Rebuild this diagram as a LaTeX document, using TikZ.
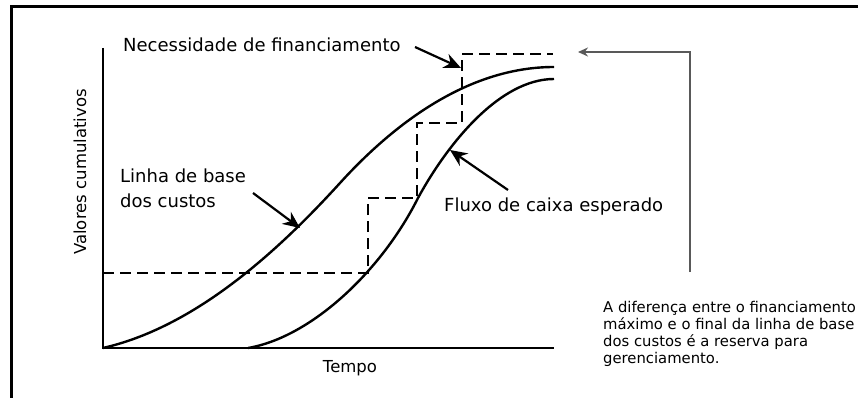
\documentclass[tikz,border=0pt]{standalone}
\usepackage{fontspec}
\setmainfont{DejaVu Sans}
\usetikzlibrary{arrows.meta}

\begin{document}
\begin{tikzpicture}[x=1pt,y=-1pt,
    lbl/.style={inner sep=0pt,font=\fontsize{18}{25}\selectfont},
    axislbl/.style={inner sep=0pt,font=\fontsize{16.5}{19}\selectfont},
    notelbl/.style={inner sep=0pt,align=left,font=\fontsize{14.8}{16.7}\selectfont},
    curve/.style={line width=2.4pt},
    pointer/.style={line width=2.2pt,-{Stealth[length=17pt,width=15pt]}},
    funding/.style={line width=2.2pt,dash pattern=on 11pt off 6pt},
    reserve/.style={line width=1.3pt,draw=black!65,-{Stealth[length=10pt,width=9pt]}}]
    \useasboundingbox (0,0) rectangle (858,398);

    % Draw the frame and the axes
    \draw[line width=3pt] (11,398) -- (11,7) -- (858,7);
    \draw[line width=2.2pt] (103,48) -- (103,348) -- (554,348);

    % Define the labels
    \node[axislbl,rotate=90,anchor=base] (yaxis) at (86,172) {Valores cumulativos};
    \node[axislbl,anchor=base] (xaxis) at (350,372) {Tempo};
    \node[lbl,anchor=base west] (need) at (123,52) {Necessidade de financiamento};
    \node[lbl,anchor=north west,align=left] (costlbl) at (120,168.5) {Linha de base\\dos custos};
    \node[lbl,anchor=base west] (flow) at (444,211) {Fluxo de caixa esperado};
    \node[notelbl,anchor=north west] (note) at (603,301.5) {A diferença entre o financiamento\\máximo e o final da linha de base\\dos custos é a reserva para\\gerenciamento.};

    % Draw the funding steps
    \draw[funding] (103,273) -- (368,273) -- (368,198) -- (417,198) -- (417,123) -- (462,123) -- (462,54) -- (553,54);

    % Draw the curves
    \draw[curve] (103,348) .. controls (190,328) and (270,260) .. (340,183)
                           .. controls (390,128) and (465,67) .. (554,67);
    \draw[curve] (248,348) .. controls (312,337) and (382,270) .. (418,198)
                           .. controls (448,143) and (500,79) .. (554,79);

    % Define the arrow ends
    \coordinate (needTail) at (415,47);
    \coordinate (needTip) at (461,68);
    \coordinate (costTail) at (253,193);
    \coordinate (costTip) at (300,228);
    \coordinate (flowTail) at (508,190);
    \coordinate (flowTip) at (450,150);
    \coordinate (resBottom) at (690,272);
    \coordinate (resCorner) at (690,52);
    \coordinate (resTip) at (578,52);

    % Draw the arrows
    \draw[pointer] (needTail) -- (needTip);
    \draw[pointer] (costTail) -- (costTip);
    \draw[pointer] (flowTail) -- (flowTip);
    \draw[reserve] (resBottom) -- (resCorner) -- (resTip);
\end{tikzpicture}
\end{document}
